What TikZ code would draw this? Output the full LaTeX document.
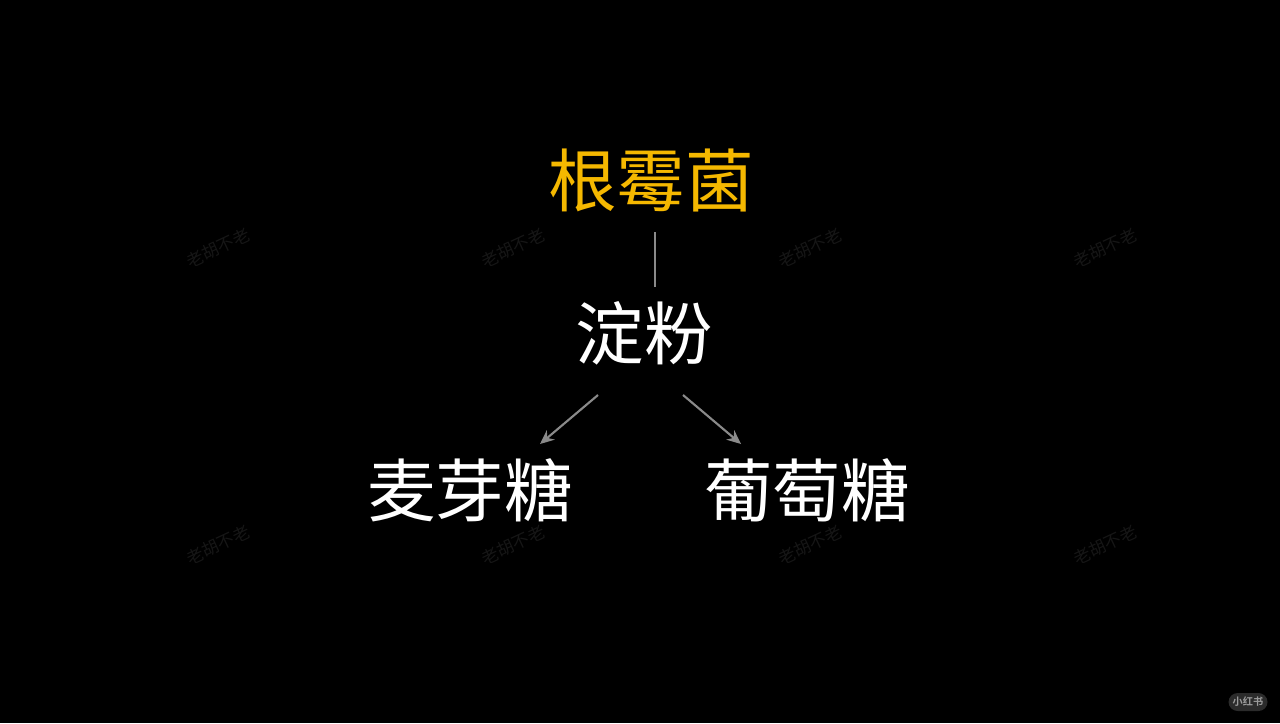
\documentclass[tikz,border=0pt]{standalone}
\usepackage{fontspec}
\newfontfamily\cjk{Noto Sans CJK SC}
\newfontfamily\cjkbold{Noto Sans CJK SC Bold}
\usetikzlibrary{arrows.meta}
\definecolor{goldtxt}{HTML}{F5B800}
\definecolor{linegray}{HTML}{8A8A8A}
\definecolor{wmgray}{HTML}{161616}
\definecolor{logofill}{HTML}{2B2B2B}
\definecolor{logotext}{HTML}{9A9A9A}
\tikzset{
  title/.style={font=\cjk\fontsize{19.5}{20}\selectfont, inner sep=0pt, anchor=center},
  wm/.style={font=\cjk\fontsize{4.8}{5}\selectfont, text=wmgray, rotate=25, inner sep=0pt},
  conn/.style={draw=linegray, line width=0.6pt},
}
\begin{document}
\begin{tikzpicture}[x=0.01cm,y=0.01cm]
\fill[black] (0,0) rectangle (1280,723);
\useasboundingbox (0,0) rectangle (1280,723);
% watermarks
\foreach \px/\py [count=\i] in {218/475, 513/475, 810/475, 1105/475, 218/178, 513/178, 810/178, 1105/178}{
  \node[wm] (wm\i) at (\px,\py) {老胡不老};
}
% logo
\node[fill=logofill, rounded corners=2.6pt, minimum width=0.39cm, minimum height=0.18cm, inner sep=0pt,
      font=\cjkbold\fontsize{2.9}{3}\selectfont, text=logotext] (logo) at (1248,21) {小红书};
% nodes
\node[title, text=goldtxt] (a) at (651,543) {根霉菌};
\node[title, text=white] (b) at (644,390) {淀粉};
\node[title, text=white] (c) at (470,233) {麦芽糖};
\node[title, text=white] (d) at (807,233) {葡萄糖};
% connectors
\coordinate (a1) at (655,491);
\coordinate (b1) at (655,436);
\draw[conn] (a1) -- (b1);
\coordinate (bl) at (598,328);
\coordinate (cl) at (540,279);
\coordinate (br) at (683,328);
\coordinate (dr) at (741,279);
\draw[conn, -{Stealth[length=4pt,width=3.5pt]}] (bl) -- (cl);
\draw[conn, -{Stealth[length=4pt,width=3.5pt]}] (br) -- (dr);
\end{tikzpicture}
\end{document}
